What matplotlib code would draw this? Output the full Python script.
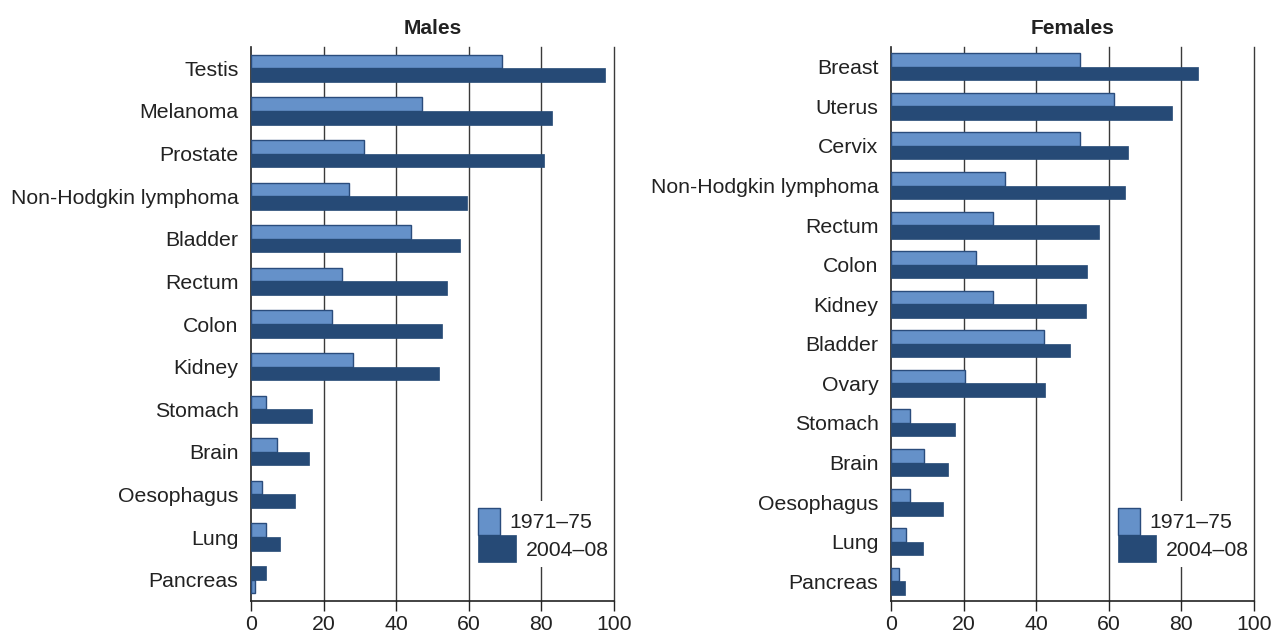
import matplotlib
matplotlib.use("Agg")
import matplotlib.pyplot as plt
from matplotlib.patches import Rectangle

plt.rcParams['font.family'] = ['Liberation Sans', 'DejaVu Sans']

male_sites = ["Testis", "Melanoma", "Prostate", "Non-Hodgkin lymphoma", "Bladder", "Rectum",
              "Colon", "Kidney", "Stomach", "Brain", "Oesophagus", "Lung", "Pancreas"]
male_1971 = [69.2, 47.2, 31.2, 27.1, 44.1, 25.2, 22.2, 28.1, 4.1, 7.2, 3.1, 4.1, 1.1]
male_2004 = [97.4, 82.9, 80.8, 59.5, 57.6, 54.0, 52.6, 51.8, 16.7, 16.0, 12.0, 8.1, 4.0]
male_swapped = ["Pancreas"]

female_sites = ["Breast", "Uterus", "Cervix", "Non-Hodgkin lymphoma", "Rectum", "Colon", "Kidney",
                "Bladder", "Ovary", "Stomach", "Brain", "Oesophagus", "Lung", "Pancreas"]
female_1971 = [52.2, 61.3, 52.2, 31.3, 28.2, 23.3, 28.2, 42.2, 20.3, 5.3, 9.2, 5.3, 4.1, 2.2]
female_2004 = [84.6, 77.3, 65.3, 64.5, 57.2, 54.0, 53.6, 49.4, 42.5, 17.6, 15.8, 14.3, 8.9, 3.8]
female_swapped = []

series_labels = ["1971\u201375", "2004\u201308"]
xticks = [0, 20, 40, 60, 80, 100]

LIGHT = "#6591C9"
DARK = "#264A76"
EDGE = "#2A4C7C"
GRID = "#3a3a3a"

fig = plt.figure(figsize=(12.73, 6.34), dpi=100)
W, H = 1273, 634


def panel(left, sites, v1, v2, swapped, title, h):
    ax = fig.add_axes([left / W, (H - 601) / H, 363 / W, (601 - 47) / H])
    n = len(sites)
    for i, s in enumerate(sites):
        sgn = -1 if s in swapped else 1
        ax.barh(i - sgn * h / 2, v1[i], height=h, color=LIGHT, edgecolor=EDGE, linewidth=1, zorder=3)
        ax.barh(i + sgn * h / 2, v2[i], height=h, color=DARK, edgecolor=DARK, linewidth=0.5, zorder=3)
    ax.set_ylim(n - 0.5, -0.5)
    ax.set_xlim(0, 100)
    ax.set_yticks(range(n))
    ax.set_yticklabels(sites, fontsize=15.3, color="#222222")
    ax.tick_params(axis="y", length=0, pad=9)
    ax.set_xticks(xticks)
    ax.set_xticklabels([str(t) for t in xticks], fontsize=15.3, color="#222222")
    ax.tick_params(axis="x", length=7, width=1, pad=3, color="#222222")
    for t in xticks[1:]:
        ax.axvline(t, color=GRID, linewidth=1, zorder=1, clip_on=False)
    for sp in ["top", "right"]:
        ax.spines[sp].set_visible(False)
    ax.spines["left"].set_color("#222222")
    ax.spines["bottom"].set_color("#222222")
    ax.spines["left"].set_linewidth(1.2)
    ax.spines["bottom"].set_linewidth(1.2)
    ax.set_title(title, fontsize=15, fontweight="bold", pad=9, color="#222222")
    # legend
    tr = ax.transAxes
    ax.add_patch(Rectangle((0.615, 0.062), 0.37, 0.118, transform=tr, facecolor="white",
                           edgecolor="none", zorder=4))
    ax.add_patch(Rectangle((0.625, 0.119), 0.061, 0.049, transform=tr, facecolor=LIGHT,
                           edgecolor=EDGE, linewidth=1, zorder=5))
    ax.add_patch(Rectangle((0.625, 0.070), 0.105, 0.049, transform=tr, facecolor=DARK,
                           edgecolor=DARK, linewidth=0.5, zorder=5))
    ax.text(0.713, 0.141, series_labels[0], transform=tr, fontsize=15.3, va="center",
            ha="left", color="#222222", zorder=6)
    ax.text(0.757, 0.092, series_labels[1], transform=tr, fontsize=15.3, va="center",
            ha="left", color="#222222", zorder=6)
    return ax


panel(251, male_sites, male_1971, male_2004, male_swapped, "Males", 0.32)
panel(891, female_sites, female_1971, female_2004, female_swapped, "Females", 0.34)

fig.savefig("out.png", dpi=100, facecolor="white")
